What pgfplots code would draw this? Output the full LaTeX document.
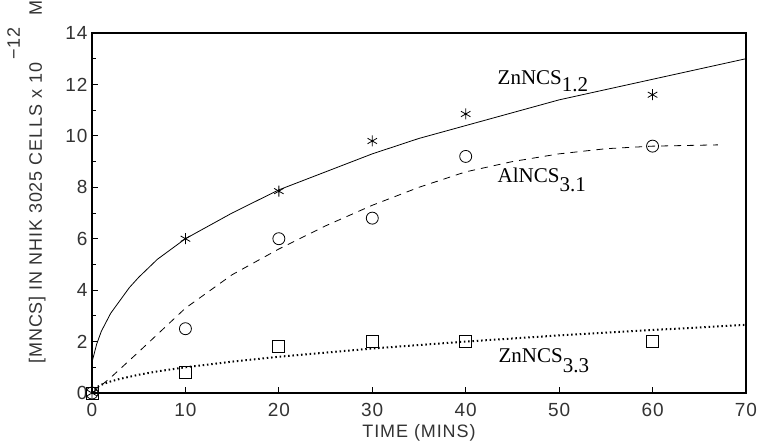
\documentclass[border=0pt]{standalone}
\usepackage{pgfplots}
\pgfplotsset{compat=1.18}
\usepackage{fontspec}
\setmainfont{Liberation Sans}[LetterSpace=5]
\newfontfamily\serif{Liberation Serif}
\newcommand{\lbl}[3]{{\serif\fontsize{21bp}{24bp}\selectfont #1\raisebox{-#3}{#2}}}

\begin{document}
\begin{tikzpicture}
\begin{axis}[
  at={(0,0)}, anchor=south west,
  scale only axis, width=654bp, height=360bp,
  xmin=0, xmax=70, ymin=0, ymax=14,
  xtick={0,10,...,70}, ytick={0,2,...,14},
  minor y tick num=1,
  tick pos=left, tick align=inside,
  major tick length=6bp, minor tick length=4bp,
  axis line style={line width=1.6bp},
  tick style={line width=0.8bp, black},
  ticklabel style={font=\fontsize{19bp}{22bp}\selectfont, color=black!80},
  yticklabel style={xshift=-1bp},
  xticklabel style={yshift=-7bp},
  /pgf/number format/assume math mode=true,
  clip=false,
]
% ZnNCS 1.2 fit
\addplot[black, line width=0.8bp] coordinates {
(0,1.2) (0.5,1.9) (1,2.4) (2,3.1) (3,3.6) (4,4.1) (5,4.5) (7,5.2) (10,6.0)
(15,7.0) (20,7.9) (25,8.6) (30,9.3) (35,9.9) (40,10.4) (45,10.9) (50,11.4)
(55,11.8) (60,12.2) (65,12.6) (70,13.0)};
% AlNCS 3.1 fit
\addplot[black, line width=0.8bp, dash pattern=on 7bp off 6bp] coordinates {
(0,0) (2,0.6) (5,1.6) (10,3.3) (15,4.6) (20,5.6) (25,6.5) (30,7.3) (35,8.0)
(40,8.6) (45,9.0) (50,9.3) (55,9.5) (60,9.6) (67,9.65)};
% ZnNCS 3.3 fit
\addplot[black, line width=2bp, dash pattern=on 1.5bp off 2.8bp] coordinates {
(0,0) (0.5,0.22) (1,0.32) (2,0.45) (3,0.55) (5,0.71) (7,0.84) (10,1.0)
(15,1.22) (20,1.41) (30,1.73) (40,2.0) (50,2.24) (60,2.45) (70,2.65)};
% measured points
\addplot[only marks, mark=asterisk, mark size=5.5bp, mark options={line width=0.8bp}] coordinates {
(0,0) (10,6.0) (20,7.85) (30,9.8) (40,10.85) (60,11.6)};
\addplot[only marks, mark=o, mark size=6bp, mark options={line width=0.8bp}] coordinates {
(0,0) (10,2.5) (20,6.0) (30,6.8) (40,9.2) (60,9.6)};
\addplot[only marks, mark=square, mark size=6bp, mark options={line width=0.8bp}] coordinates {
(0,0) (10,0.8) (20,1.8) (30,2.0) (40,2.0) (60,2.0)};

\node[anchor=base west, inner sep=0pt] at (axis cs:43.4,12.0) {\lbl{ZnNCS}{1.2}{7bp}};
\node[anchor=base west, inner sep=0pt] at (axis cs:43.4,8.2) {\lbl{AlNCS}{3.1}{9bp}};
\node[anchor=base west, inner sep=0pt] at (axis cs:43.5,1.17) {\lbl{ZnNCS}{3.3}{10bp}};

\node[anchor=center, font=\fontsize{18bp}{20bp}\selectfont, color=black!80]
  at ([yshift=-40bp]axis cs:35,0) {TIME (MINS)};
\node[anchor=base, rotate=90, font=\fontsize{18bp}{20bp}\selectfont, color=black!80]
  at ([xshift=-50bp]axis cs:0,8.2) {[MNCS] IN NHIK 3025 CELLS x 10\,\raisebox{22bp}{−12}\,\, M};
\end{axis}
\pgfresetboundingbox
\path[use as bounding box] (-92bp,-54bp) rectangle (669bp,393bp);
\end{tikzpicture}
\end{document}
